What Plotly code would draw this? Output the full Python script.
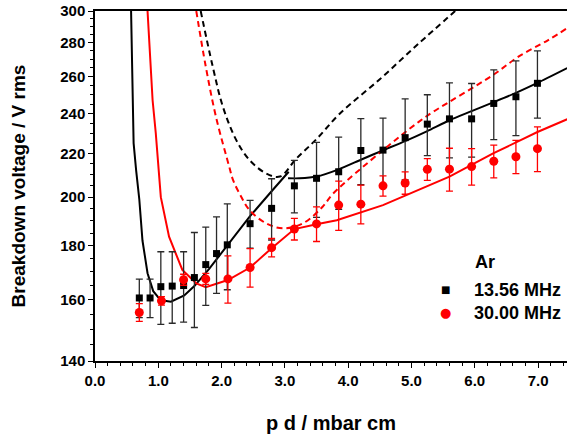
import numpy as np
import plotly.graph_objects as go

# ---------------- data ----------------
pd_1356 = [0.70, 0.87, 1.04, 1.22, 1.40, 1.57, 1.75, 1.92, 2.09, 2.45, 2.79, 3.15,
           3.50, 3.85, 4.20, 4.55, 4.90, 5.25, 5.60, 5.95, 6.30, 6.65, 6.99]
v_1356 = [160.6, 160.6, 164.6, 164.8, 165.0, 167.9, 172.7, 176.9, 180.3, 188.8, 195.2, 205.0,
          208.4, 211.4, 221.4, 221.6, 227.7, 234.5, 237.2, 237.2, 245.3, 248.9, 256.3]
err_1356 = [6.7, 6.7, 13.0, 12.8, 12.6, 17.3, 14.7, 14.7, 16.8, 9.8, 13.0, 11.7,
            17.0, 16.6, 15.9, 16.0, 20.0, 15.5, 19.3, 19.0, 18.6, 20.2, 18.7]

pd_3000 = [0.70, 1.05, 1.40, 1.75, 2.10, 2.45, 2.79, 3.15, 3.50, 3.85, 4.20, 4.55,
           4.90, 5.25, 5.60, 5.95, 6.30, 6.65, 6.99]
v_3000 = [155.6, 159.6, 167.1, 167.4, 167.4, 171.6, 179.2, 186.6, 188.7, 196.6, 197.0, 205.0,
          206.3, 212.5, 212.6, 213.8, 216.3, 218.4, 222.3]
err_3000 = [3.0, 1.5, 2.0, 2.0, 8.6, 7.2, 3.6, 4.4, 7.1, 10.5, 8.3, 4.5,
            5.0, 5.0, 9.9, 8.5, 7.7, 7.9, 10.8]

# model curves, 13.56 MHz (solid: two branches, dashed)
fit1356_lo_x = [0.57, 0.60, 0.61, 0.65, 0.70, 0.75, 0.83, 0.92, 1.01, 1.10, 1.20, 1.41,
                1.57, 1.80, 2.02, 2.44, 2.79, 3.06]
fit1356_lo_y = [300, 240, 225, 212, 199, 182, 169.5, 163, 160.5, 159.6, 159.3, 161.5,
                164.8, 171, 177.7, 191.6, 202.6, 211.4]
fit1356_hi_x = [3.05, 3.23, 3.50, 3.85, 4.20, 4.55, 4.90, 5.25, 5.60, 5.95, 6.30, 6.65,
                6.99, 7.46]
fit1356_hi_y = [208.4, 208.4, 209.2, 212.5, 217.0, 221.5, 226.0, 231.0, 236.5, 241.2, 246.0,
                251.0, 256.5, 264.9]
dash1356_x = [1.67, 1.86, 2.02, 2.23, 2.44, 2.70, 2.92, 3.18, 3.50, 3.87, 4.50, 5.10, 5.69]
dash1356_y = [300, 265.8, 243.6, 226.6, 216.9, 210.7, 209.2, 217.5, 227.0, 240.0, 258.6,
              279.0, 300]

# model curves, 30.00 MHz
fit3000_x = [0.83, 0.91, 0.96, 1.01, 1.04, 1.17, 1.38, 1.60, 1.75, 2.10, 2.45, 2.79, 3.15,
             3.50, 3.82, 4.55, 5.13, 5.60, 6.29, 6.99, 7.46]
fit3000_y = [300, 247, 230, 208, 200, 183.5, 170.7, 165.8, 164.4, 167, 171.6, 179, 186.6,
             188.6, 190.2, 196.6, 203.5, 209.2, 220.0, 230.5, 237.0]
dash3000_x = [1.60, 1.75, 1.91, 2.12, 2.18, 2.31, 2.44, 2.70, 2.97, 3.29, 3.60, 3.76,
              4.55, 5.12, 5.35, 6.29, 6.69, 7.16, 7.46]
dash3000_y = [300, 265.8, 238.4, 213.8, 207.7, 200.2, 194.5, 189, 186.9, 189, 196, 201.5,
              221.6, 235.8, 241, 261, 271.6, 281.6, 289]

x_ticks = [0, 1, 2, 3, 4, 5, 6, 7]
x_ticktext = ["0.0", "1.0", "2.0", "3.0", "4.0", "5.0", "6.0", "7.0"]
y_ticks = [140, 160, 180, 200, 220, 240, 260, 280, 300]
y_minor = [v for v in range(145, 300, 5) if v not in y_ticks]

legend_title = "Ar"
legend_names = ["13.56 MHz", "30.00 MHz"]

# ---------------- figure ----------------
FONT = "Liberation Sans, Arial, Helvetica, sans-serif"
BLACK = "#000000"
RED = "#ff0000"

fig = go.Figure()

fig.add_trace(go.Scatter(x=fit1356_lo_x, y=fit1356_lo_y, mode="lines",
                         line=dict(color=BLACK, width=2), showlegend=False, hoverinfo="skip"))
fig.add_trace(go.Scatter(x=fit1356_hi_x, y=fit1356_hi_y, mode="lines", line_shape="spline",
                         line=dict(color=BLACK, width=2, smoothing=0.6), showlegend=False,
                         hoverinfo="skip"))
fig.add_trace(go.Scatter(x=dash1356_x, y=dash1356_y, mode="lines", line_shape="spline",
                         line=dict(color=BLACK, width=2, dash="6px,4px"), showlegend=False,
                         hoverinfo="skip"))
fig.add_trace(go.Scatter(x=fit3000_x, y=fit3000_y, mode="lines",
                         line=dict(color=RED, width=2), showlegend=False, hoverinfo="skip"))
fig.add_trace(go.Scatter(x=dash3000_x, y=dash3000_y, mode="lines", line_shape="spline",
                         line=dict(color=RED, width=2, dash="6px,4px"), showlegend=False,
                         hoverinfo="skip"))

fig.add_trace(go.Scatter(x=pd_1356, y=v_1356, mode="markers", name=legend_names[0],
                         marker=dict(symbol="square", size=7, color=BLACK),
                         error_y=dict(type="data", array=err_1356, visible=True,
                                      color="#2a2a2a", thickness=1.3, width=3.5),
                         showlegend=False))
fig.add_trace(go.Scatter(x=pd_3000, y=v_3000, mode="markers", name=legend_names[1],
                         marker=dict(symbol="circle", size=9, color=RED),
                         error_y=dict(type="data", array=err_3000, visible=True,
                                      color=RED, thickness=1.3, width=3.5),
                         showlegend=False))

axis_common = dict(showline=True, linecolor=BLACK, linewidth=1.5, mirror=True,
                   showgrid=False, zeroline=False, ticks="outside", ticklen=5,
                   tickwidth=1.2, tickcolor=BLACK, automargin=False,
                   ticklabeloverflow="allow",
                   tickfont=dict(family=FONT, size=15, color=BLACK, weight="bold"))

fig.update_xaxes(range=[0, 7.457], tickmode="array", tickvals=x_ticks, ticktext=x_ticktext,
                 minor=dict(dtick=0.2, tick0=0, ticks="outside", ticklen=3, tickwidth=1,
                            tickcolor=BLACK),
                 title=dict(text="p d / mbar cm", standoff=28,
                            font=dict(family=FONT, size=20, color=BLACK, weight="bold")),
                 **axis_common)
fig.update_yaxes(type="log", range=[np.log10(140), np.log10(300)], tickmode="array",
                 tickvals=y_ticks, ticktext=[str(v) for v in y_ticks],
                 minor=dict(tickmode="array", tickvals=y_minor, ticks="outside", ticklen=3,
                            tickwidth=1, tickcolor=BLACK),
                 title=dict(text="Breakdown voltage / V rms", standoff=30,
                            font=dict(family=FONT, size=19, color=BLACK, weight="bold")),
                 **axis_common)

# legend (drawn as text)
leg_font = dict(family=FONT, size=18, color=BLACK, weight="bold")
fig.add_annotation(text=legend_title, xref="paper", yref="paper", x=0.8008, y=0.2839,
                   xanchor="left", yanchor="middle", showarrow=False, font=leg_font)
fig.add_annotation(text=legend_names[0], xref="paper", yref="paper", x=0.7987, y=0.204,
                   xanchor="left", yanchor="middle", showarrow=False, font=leg_font)
fig.add_annotation(text=legend_names[1], xref="paper", yref="paper", x=0.7987, y=0.1384,
                   xanchor="left", yanchor="middle", showarrow=False, font=leg_font)
fig.add_annotation(text="\u25a0", xref="paper", yref="paper", x=0.7436, y=0.204,
                   xanchor="center", yanchor="middle", showarrow=False,
                   font=dict(family="DejaVu Sans", size=10, color=BLACK))
fig.add_annotation(text="\u25cf", xref="paper", yref="paper", x=0.7436, y=0.1384,
                   xanchor="center", yanchor="middle", showarrow=False,
                   font=dict(family="DejaVu Sans", size=13, color=RED))

fig.update_layout(
    width=567, height=439,
    margin=dict(l=95, r=0, t=11, b=77.5),
    plot_bgcolor="white", paper_bgcolor="white",
    font=dict(family=FONT, color=BLACK),
    showlegend=False,
)

# remove the default 8 px page margin so the figure fills the window exactly
fig.write_html("out.html",
               config={"displayModeBar": False},
               post_script="document.body.style.margin='0';document.body.style.overflow='hidden';")
